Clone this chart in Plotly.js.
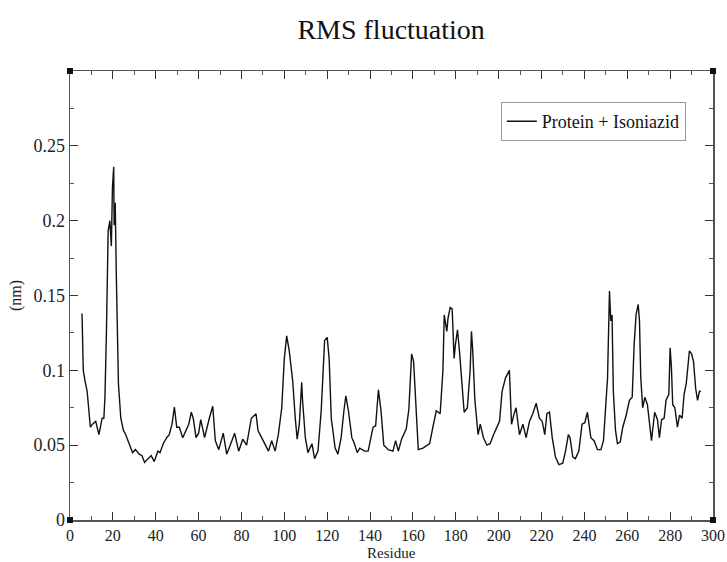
<!DOCTYPE html>
<html>
<head>
<meta charset="utf-8">
<script src="https://cdn.plot.ly/plotly-3.0.1.min.js"></script>
<style>html,body{margin:0;padding:0;background:#fff;}#chart{width:727px;height:562px;}</style>
</head>
<body>
<div id="chart"></div>
<script>
const residue = [5.6,6.2,7,8,9,9.5,10.5,12,13.5,15,15.8,16.3,17,17.8,18.6,19.3,19.8,20.4,20.6,21.1,21.6,22.6,23.7,24.9,26,27.7,29.2,30.5,32.3,33.6,34.8,36.4,37.9,39.3,41,42,43.5,45.1,46.3,47.6,48.7,49.8,51,52.6,54.1,55.4,56.6,57.5,58.8,60,61,62.8,65,66.6,67.8,69.4,71.5,73.1,75,76.8,78.7,80.6,82.4,84.6,86.8,87.7,88.7,90.2,92.6,94.1,95.7,97.2,98.8,100,101.1,102.3,103.9,105.1,106,107,108.1,108.5,109.8,111,112.9,114.1,115.7,117.2,118.8,120,120.9,121.9,123.7,125,126.5,127.8,128.7,129.9,131.5,132.7,134,135.2,137.5,139.1,141.4,142.6,143.9,145.1,146.4,148.5,150.7,151.9,153.2,154.7,156.9,158.1,159.4,160.3,161.6,162.5,164.7,167.8,169.3,170.9,172.7,174,174.6,175.8,176.4,177.4,178.3,179.2,179.8,180.8,181.7,182.6,183.9,185.4,186.7,187.3,187.9,188.9,190.4,191.4,192.9,194.5,196,197.6,199.1,200.4,201.6,203.2,205,206,207.2,208.1,209.7,211.3,212.8,214.4,215.9,217.5,219,220.3,221.5,222.5,223.7,225,226.5,228.1,229.9,231.2,232.5,233.3,234.6,235.8,237.4,238.9,240.2,241.4,243,244.5,246.1,247.7,248.9,249.8,250.8,251.7,252.3,252.9,253.5,254.5,255.4,256.7,257.9,259.5,261,262.3,263.2,264.1,265.1,265.7,266.3,267.2,268.2,269.4,270.4,271.3,272.3,272.8,274.1,275,276,277.2,278.1,279.4,280,280.6,281.2,282.2,283.4,284.4,285.6,286.5,287.5,288.4,289,290,290.9,291.9,292.8,293.7,294.3];
const rmsf = [0.138,0.100,0.093,0.086,0.070,0.062,0.064,0.066,0.057,0.068,0.068,0.082,0.126,0.193,0.200,0.183,0.222,0.236,0.197,0.212,0.164,0.091,0.068,0.060,0.057,0.051,0.045,0.047,0.044,0.043,0.0385,0.041,0.043,0.039,0.046,0.045,0.051,0.055,0.057,0.064,0.0755,0.062,0.062,0.055,0.060,0.064,0.072,0.068,0.055,0.058,0.067,0.055,0.068,0.076,0.053,0.047,0.058,0.044,0.051,0.058,0.046,0.054,0.050,0.068,0.071,0.060,0.057,0.053,0.046,0.053,0.046,0.057,0.075,0.108,0.123,0.113,0.093,0.068,0.054,0.064,0.092,0.080,0.055,0.045,0.051,0.041,0.046,0.073,0.120,0.122,0.108,0.068,0.048,0.044,0.055,0.073,0.083,0.073,0.055,0.051,0.045,0.048,0.046,0.046,0.062,0.063,0.087,0.073,0.050,0.047,0.046,0.053,0.046,0.054,0.061,0.074,0.111,0.106,0.068,0.047,0.048,0.051,0.062,0.073,0.071,0.100,0.137,0.126,0.135,0.142,0.141,0.108,0.117,0.127,0.113,0.097,0.072,0.075,0.100,0.126,0.113,0.080,0.057,0.064,0.055,0.050,0.051,0.057,0.062,0.066,0.086,0.095,0.100,0.064,0.071,0.075,0.057,0.064,0.055,0.066,0.071,0.078,0.068,0.066,0.057,0.071,0.072,0.055,0.042,0.037,0.038,0.046,0.057,0.055,0.042,0.041,0.046,0.064,0.065,0.072,0.055,0.053,0.047,0.047,0.053,0.077,0.095,0.153,0.133,0.137,0.086,0.060,0.051,0.052,0.062,0.070,0.080,0.082,0.117,0.137,0.144,0.133,0.095,0.075,0.082,0.077,0.066,0.053,0.066,0.072,0.067,0.055,0.067,0.068,0.080,0.084,0.115,0.102,0.077,0.075,0.062,0.070,0.068,0.084,0.091,0.108,0.113,0.111,0.106,0.088,0.080,0.086,0.086];
const seriesName = "Protein + Isoniazid";
const xTicks = [0,20,40,60,80,100,120,140,160,180,200,220,240,260,280,300];
const yTickVals = [0,0.05,0.1,0.15,0.2,0.25];
const yTickText = ["0","0.05","0.1","0.15","0.2","0.25"];
const xTitle = "Residue";

const font = "Liberation Serif, Times New Roman, serif";
const axisCommon = {
  showgrid:false, zeroline:false, showline:true, linecolor:"#555", linewidth:1.5,
  mirror:"ticks", ticks:"inside", ticklen:8, tickwidth:1, tickcolor:"#333",
  tickfont:{family:font, size:18, color:"#222"}
};
const corner = (xa, ya) => ({type:"rect", xref:"paper", yref:"paper", xsizemode:"pixel", ysizemode:"pixel",
  xanchor:xa, yanchor:ya, x0:-3, x1:3, y0:-3, y1:3, fillcolor:"#111", line:{width:0}});

Plotly.newPlot("chart", [{
  x: residue, y: rmsf, type:"scatter", mode:"lines", name: seriesName,
  line:{color:"#111", width:1.4}
}], {
  width:727, height:562,
  margin:{l:70, r:14, t:71, b:42},
  paper_bgcolor:"#fff", plot_bgcolor:"#fff",
  title:{text:"RMS fluctuation", x:0.538, xanchor:"center", y:0.948, yanchor:"middle",
    font:{family:font, size:28, color:"#111"}},
  xaxis: Object.assign({}, axisCommon, {range:[0,300], tickvals:xTicks,
    tickfont:{family:font, size:16, color:"#222"},
    minor:{dtick:10, tick0:0, ticks:"inside", ticklen:4, tickcolor:"#555", showgrid:false}}),
  yaxis: Object.assign({}, axisCommon, {range:[0,0.3], tickvals:yTickVals, ticktext:yTickText,
    minor:{dtick:0.025, tick0:0, ticks:"inside", ticklen:4, tickcolor:"#555", showgrid:false},
    title:{text:"(nm)", font:{family:font, size:16, color:"#222"}, standoff:8}}),
  annotations:[{text:xTitle, xref:"paper", yref:"paper", x:0.5, y:0, xanchor:"center", yanchor:"top",
    yshift:-24, borderpad:0, showarrow:false, font:{family:font, size:15, color:"#222"}}],
  showlegend:true,
  legend:{x:0.67, y:0.931, xanchor:"left", yanchor:"top", bgcolor:"#fff", bordercolor:"#999", borderwidth:1,
    font:{family:font, size:18, color:"#111"}},
  shapes:[corner(0,0), corner(1,0), corner(0,1), corner(1,1)]
}, {displayModeBar:false, staticPlot:true});
</script>
</body>
</html>
